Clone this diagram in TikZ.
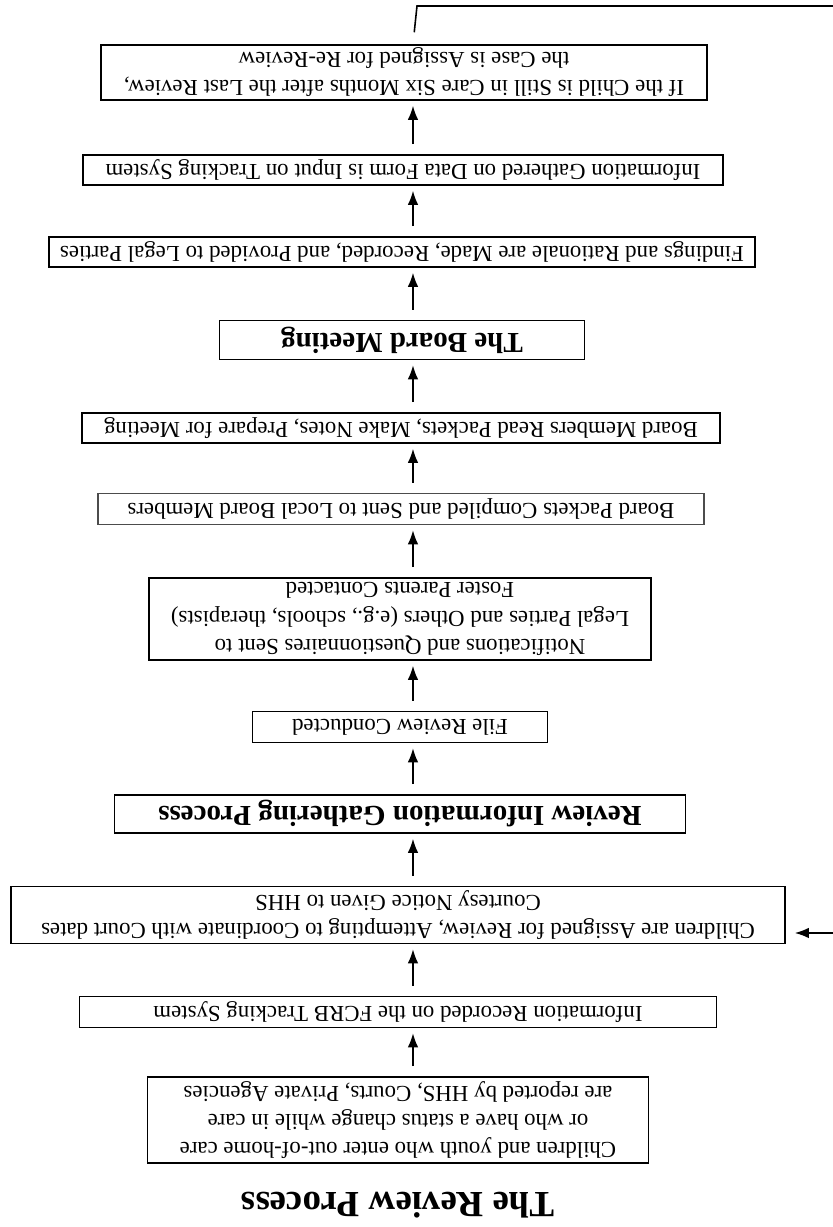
\documentclass[tikz,border=0pt]{standalone}
\usepackage{fontspec}
\setmainfont{Liberation Serif}
\usetikzlibrary{arrows.meta}

\tikzset{
  stage/.style={draw, line width=0.9pt, align=center, inner sep=0pt, font=\fontsize{13}{16}\selectfont},
  bigstage/.style={stage, font=\fontsize{16.5}{20}\selectfont\bfseries},
  flow/.style={->, >={Latex[length=8pt,width=6pt]}, line width=0.9pt, shorten <=0.2cm, shorten >=0.1cm}
}

\begin{document}
\begin{tikzpicture}[rotate=180, transform shape]
  \useasboundingbox (0,0) rectangle (16.66,-24.54);
  \coordinate (spine) at (8.4,0);
  \draw (8.7,-0.44) node (title) {\fontsize{21}{25}\selectfont\bfseries The Review Process};
  \draw (8.7,-2.14) node [stage, minimum width=10.02cm, minimum height=1.72cm] (youth) {Children and youth who enter out-of-home care\\or who have a status change while in care\\are reported by HHS, Courts, Private Agencies};
  \draw (8.7,-4.30) node [stage, minimum width=12.74cm, minimum height=0.62cm] (recorded) {Information Recorded on the FCRB Tracking System};
  \draw (8.7,-6.24) node [stage, minimum width=15.48cm, minimum height=1.14cm] (assigned) {Children are Assigned for Review, Attempting to Coordinate with Court dates\\Courtesy Notice Given to HHS};
  \draw (8.66,-8.26) node [bigstage, minimum width=11.42cm, minimum height=0.76cm] (gathering) {Review Information Gathering Process};
  \draw (8.66,-10.0) node [stage, minimum width=5.9cm, minimum height=0.62cm] (filereview) {File Review Conducted};
  \draw (8.66,-12.16) node [stage, minimum width=10.04cm, minimum height=1.64cm] (notices) {Notifications and Questionnaires Sent to\\Legal Parties and Others (e.g., schools, therapists)\\Foster Parents Contacted};
  \draw (8.64,-14.36) node [stage, draw=black!70, minimum width=12.12cm, minimum height=0.62cm] (packets) {Board Packets Compiled and Sent to Local Board Members};
  \draw (8.64,-15.98) node [stage, minimum width=12.76cm, minimum height=0.6cm] (readpackets) {Board Members Read Packets, Make Notes, Prepare for Meeting};
  \draw (8.62,-17.74) node [bigstage, minimum width=7.3cm, minimum height=0.78cm] (meeting) {The Board Meeting};
  \draw (8.62,-19.50) node [stage, minimum width=14.12cm, minimum height=0.6cm] (findings) {Findings and Rationale are Made, Recorded, and Provided to Legal Parties};
  \draw (8.60,-21.14) node [stage, minimum width=12.8cm, minimum height=0.6cm] (dataform) {Information Gathered on Data Form is Input on Tracking System};
  \draw (8.58,-23.09) node [stage, minimum width=12.12cm, minimum height=1.1cm] (rereview) {If the Child is Still in Care Six Months after the Last Review,\\the Case is Assigned for Re-Review};

  \draw [flow] (youth.south -| spine) -- (recorded.north -| spine);
  \draw [flow] (recorded.south -| spine) -- (assigned.north -| spine);
  \draw [flow] (assigned.south -| spine) -- (gathering.north -| spine);
  \draw [flow] (gathering.south -| spine) -- (filereview.north -| spine);
  \draw [flow] (filereview.south -| spine) -- (notices.north -| spine);
  \draw [flow] (notices.south -| spine) -- (packets.north -| spine);
  \draw [flow] (packets.south -| spine) -- (readpackets.north -| spine);
  \draw [flow] (readpackets.south -| spine) -- (meeting.north -| spine);
  \draw [flow] (meeting.south -| spine) -- (findings.north -| spine);
  \draw [flow] (findings.south -| spine) -- (dataform.north -| spine);
  \draw [flow] (dataform.south -| spine) -- (rereview.north -| spine);
  % back round to the assignment step
  \draw [flow, shorten <=0.24cm, shorten >=0.18cm] (rereview.south -| spine) -- (8.32,-24.42) -- (-0.3,-24.42) -- (-0.3,-5.88) -- ([yshift=0.36cm]assigned.west);
\end{tikzpicture}
\end{document}
